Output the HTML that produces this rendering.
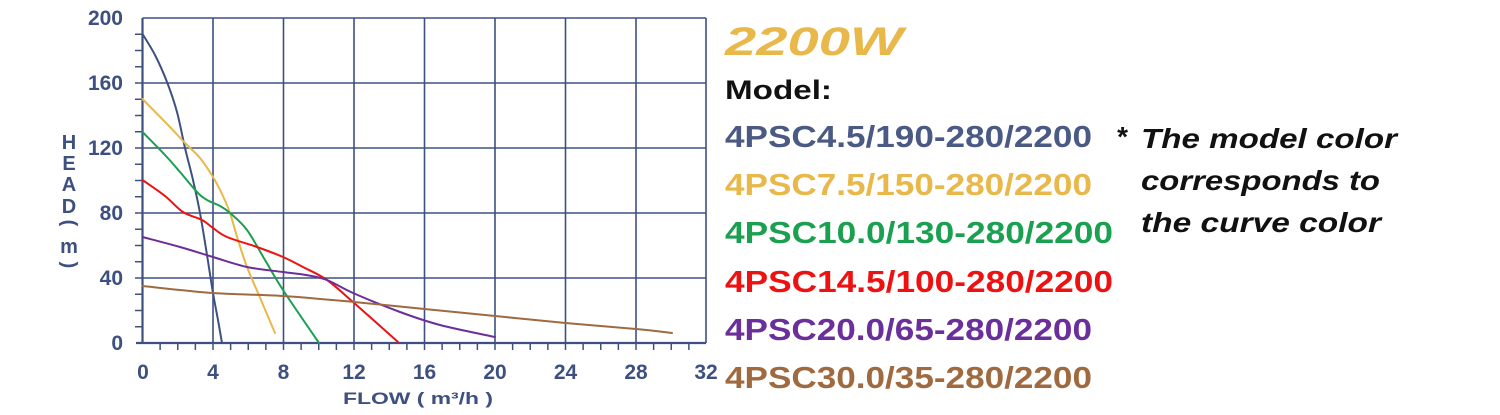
<!DOCTYPE html>
<html><head><meta charset="utf-8"><style>html,body{margin:0;padding:0;background:#fff}svg{display:block}</style></head>
<body>
<svg width="1500" height="415" viewBox="0 0 1500 415" xmlns="http://www.w3.org/2000/svg" font-family="Liberation Sans, DejaVu Sans, sans-serif">
<g stroke="#3d5080" stroke-width="1.6" fill="none">
<line x1="142.5" y1="18" x2="706" y2="18"/>
<line x1="142.5" y1="83" x2="706" y2="83"/>
<line x1="142.5" y1="148" x2="706" y2="148"/>
<line x1="142.5" y1="213" x2="706" y2="213"/>
<line x1="142.5" y1="278" x2="706" y2="278"/>
<line x1="213" y1="18" x2="213" y2="343"/>
<line x1="283.5" y1="18" x2="283.5" y2="343"/>
<line x1="354" y1="18" x2="354" y2="343"/>
<line x1="424.5" y1="18" x2="424.5" y2="343"/>
<line x1="495" y1="18" x2="495" y2="343"/>
<line x1="565.5" y1="18" x2="565.5" y2="343"/>
<line x1="636" y1="18" x2="636" y2="343"/>
<line x1="706" y1="18" x2="706" y2="343"/>
<line x1="142.5" y1="18" x2="142.5" y2="343" stroke-width="2.2"/>
<line x1="136" y1="343" x2="706" y2="343" stroke-width="2.2"/>
</g>
<g id="ticks" stroke="#3d5080" stroke-width="1.5"></g>
<g fill="#3d5080" font-weight="bold" font-size="21" text-anchor="end">
<text x="123" y="25">200</text><text x="123" y="90">160</text><text x="123" y="155">120</text>
<text x="123" y="220">80</text><text x="123" y="285">40</text><text x="123" y="350">0</text>
</g>
<g fill="#3d5080" font-weight="bold" font-size="21" text-anchor="middle">
<text x="143" y="379">0</text><text x="213" y="379">4</text><text x="283.5" y="379">8</text>
<text x="354" y="379">12</text><text x="424.5" y="379">16</text><text x="495" y="379">20</text>
<text x="565.5" y="379">24</text><text x="636" y="379">28</text><text x="706" y="379">32</text>
<text x="418" y="404" font-size="17" textLength="150" lengthAdjust="spacingAndGlyphs">FLOW ( m³/h )</text>
</g>
<g fill="#3d5080" font-weight="bold" font-size="20" text-anchor="middle">
<text x="69" y="149">H</text><text x="69" y="170">E</text><text x="69" y="191">A</text>
<text x="69" y="213">D</text><text x="69" y="229" transform="rotate(90 69 223)">(</text>
<text x="69" y="253">m</text><text x="69" y="271" transform="rotate(90 69 265)">)</text>
</g>
<g id="curves" fill="none" stroke-width="2" stroke-linejoin="round" stroke-linecap="round"></g>
<text x="725" y="55" font-size="40" font-weight="bold" font-style="italic" fill="#e8b84a" textLength="178" lengthAdjust="spacingAndGlyphs">2200W</text>
<text x="725" y="99" font-size="27" font-weight="bold" fill="#111" textLength="107" lengthAdjust="spacingAndGlyphs">Model:</text>
<g font-size="31" font-weight="bold">
<text x="725" y="147" fill="#4a5a85" textLength="367" lengthAdjust="spacingAndGlyphs">4PSC4.5/190-280/2200</text>
<text x="725" y="195" fill="#e8b84a" textLength="367" lengthAdjust="spacingAndGlyphs">4PSC7.5/150-280/2200</text>
<text x="725" y="243" fill="#1aa050" textLength="388" lengthAdjust="spacingAndGlyphs">4PSC10.0/130-280/2200</text>
<text x="725" y="292" fill="#ee1111" textLength="388" lengthAdjust="spacingAndGlyphs">4PSC14.5/100-280/2200</text>
<text x="725" y="340" fill="#6a2f9a" textLength="367" lengthAdjust="spacingAndGlyphs">4PSC20.0/65-280/2200</text>
<text x="725" y="388" fill="#a06a40" textLength="367" lengthAdjust="spacingAndGlyphs">4PSC30.0/35-280/2200</text>
</g>
<g font-size="28" font-style="italic" font-weight="bold" fill="#111">
<text x="1116" y="146">*</text>
<text x="1141" y="148" textLength="256" lengthAdjust="spacingAndGlyphs">The model color</text>
<text x="1141" y="190" textLength="239" lengthAdjust="spacingAndGlyphs">corresponds to</text>
<text x="1141" y="232" textLength="240" lengthAdjust="spacingAndGlyphs">the curve color</text>
</g>
</svg>
<script>
var g=document.getElementById('ticks'),s='';
for(var i=1;i<20;i++){var y=343-i*16.25;s+='<line x1="135" y1="'+y+'" x2="142.5" y2="'+y+'"/>';}
for(var j=1;j<32;j++){var x=142.5+j*17.625;s+='<line x1="'+x+'" y1="343" x2="'+x+'" y2="350"/>';}
g.innerHTML=s;
var C=[
["#3d5080",[[142.5,34],[155,55],[167,82],[177,112],[185,148],[193,180],[200,213],[207,255],[213,293],[218,320],[222,343]]],
["#e8b84a",[[142.5,99],[170,127],[185,143],[200,158],[213,177],[222,194],[230,213],[238,240],[247,267],[261,300],[275,333]]],
["#1aa050",[[142.5,132],[165,155],[180,172],[197,192],[207,200],[220,206],[230,213],[247,230],[265,260],[283,290],[319,343]]],
["#ee1111",[[142.5,180],[165,196],[183,212],[202,220],[213,228],[227,237],[257,247],[283,257],[303,267],[327,280],[353,302],[398,342]]],
["#6a2f9a",[[142.5,237],[180,247],[213,257],[247,267],[283,272],[306,275],[327,280],[353,293],[400,312],[440,325],[495,337]]],
["#a06a40",[[142.5,286],[213,293],[283,296],[354,302],[424.5,309],[495,316],[565.5,323],[636,329],[672,333]]]];
var h='';
C.forEach(function(c){var p=c[1],d='M'+p[0][0]+','+p[0][1];
for(var i=0;i<p.length-1;i++){var p0=p[i-1]||p[i],p1=p[i],p2=p[i+1],p3=p[i+2]||p2;
d+=' C'+(p1[0]+(p2[0]-p0[0])/6)+','+(p1[1]+(p2[1]-p0[1])/6)+' '+(p2[0]-(p3[0]-p1[0])/6)+','+(p2[1]-(p3[1]-p1[1])/6)+' '+p2[0]+','+p2[1];}
h+='<path stroke="'+c[0]+'" d="'+d+'"/>';});
document.getElementById('curves').innerHTML=h;
</script>
</body></html>
